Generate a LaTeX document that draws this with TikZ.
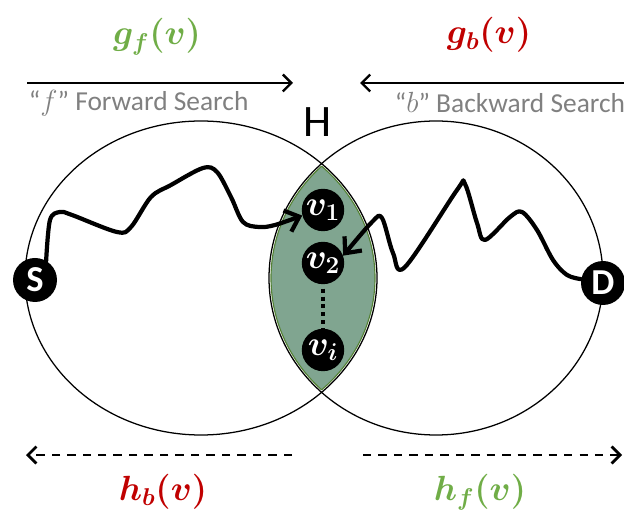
\documentclass[tikz,border=0pt]{standalone}
\usepackage{amsmath,amssymb}
\usepackage{bm}
\usepackage{fontspec}
\setmainfont{Carlito}
\usetikzlibrary{arrows.meta, positioning}
\definecolor{fwdgreen}{RGB}{112,173,71}
\definecolor{bwdred}{RGB}{192,0,0}
\definecolor{lensfill}{RGB}{128,165,144}
\definecolor{lensline}{RGB}{84,130,53}

\begin{document}
\begin{tikzpicture}[
  every node/.style={font=\fontsize{19.5}{23}\selectfont},
  term/.style={circle, fill=black, text=white, inner sep=0pt, minimum size=1.1cm,
    font=\fontsize{26}{28}\selectfont\bfseries},
  vnode/.style={circle, fill=black, text=white, inner sep=0pt, minimum size=1.06cm,
    font=\fontsize{25}{27}\selectfont},
  walk/.style={line width=3pt, line cap=round, line join=round,
    -{Straight Barb[length=9pt, width=16pt, line width=3pt]}},
  flow/.style={line width=1.7pt, -{Straight Barb[length=6pt, width=12pt]}},
  guess/.style={flow, line width=2pt, dash pattern=on 6pt off 5pt},
  fcost/.style={text=fwdgreen, font=\fontsize{26}{30}\selectfont},
  bcost/.style={text=bwdred, font=\fontsize{26}{30}\selectfont}
]
  \useasboundingbox (0,0) rectangle (15.6,12.85);

  % search regions
  \coordinate (cf) at (5.025,5.9);
  \coordinate (cb) at (10.9,5.9);
  \begin{scope}
    \clip (cf) ellipse [x radius=4.35, y radius=3.88];
    \fill[lensfill, draw=lensline, line width=0.8pt] (cb) ellipse [x radius=4.125, y radius=3.88];
  \end{scope}
  \begin{scope}
    \clip (cb) ellipse [x radius=4.125, y radius=3.88];
    \draw[lensline, line width=0.8pt] (cf) ellipse [x radius=4.35, y radius=3.88];
  \end{scope}
  \draw[line width=0.9pt] (cf) ellipse [x radius=4.4, y radius=3.925];
  \draw[line width=0.9pt] (cb) ellipse [x radius=4.175, y radius=3.925];
  \node[font=\fontsize{32}{36}\selectfont] (H) at (7.95,9.8) {H};

  % nodes
  \node[term] (S) at (0.875,5.85) {S};
  \node[term] (D) at (15.075,5.775) {D};
  \node[vnode] (v1) at (8.075,7.6) {$\bm{v_1}$};
  \node[vnode] (v2) at (8.075,6.275) {$\bm{v_2}$};
  \node[vnode] (vi) at (8.075,4.1) {$\bm{v_i}$};
  \draw[line width=2.8pt, dash pattern=on 2.8pt off 2.8pt, shorten <=3pt] (v2) -- (vi);

  % the two walks
  \draw[walk] plot[smooth, tension=0.55] coordinates {(S.60) (1.25,7.35) (1.5,7.55) (1.8,7.475)
    (2.925,7.05) (3.275,7.175) (3.775,7.925) (4.275,8.225) (5.075,8.65) (5.425,8.55)
    (5.775,7.925) (6.075,7.3) (6.475,7.175) (6.875,7.225) (v1.195)};
  \draw[walk] plot[smooth, tension=0.55] coordinates {(D.170) (14.175,5.975) (13.825,6.35)
    (13.425,7.1) (13.05,7.55) (12.75,7.425) (12.125,6.85) (11.925,7.275) (11.625,8.25)
    (11.425,8.1) (10.125,6.175) (9.825,6.525) (9.55,7.4) (9.3,7.3) (v2.20)};

  % directions
  \coordinate (f0) at (0.675,10.775);
  \coordinate (f1) at (7.325,10.775);
  \coordinate (b0) at (15.6,10.775);
  \coordinate (b1) at (9.0,10.775);
  \draw[flow] (f0) -- (f1);
  \draw[flow] (b0) -- (b1);
  \node[text=black!50, anchor=west] (fs) at (0.6,10.28) {“$f$” Forward Search};
  \node[text=black!50, anchor=west] (bs) at (9.75,10.3) {“$b$” Backward Search};
  \node[fcost] (gf) at (3.925,11.93) {$\bm{g_f(v)}$};
  \node[bcost] (gb) at (12.225,11.97) {$\bm{g_b(v)}$};

  % heuristic estimates
  \coordinate (hb0) at (7.3,1.475);
  \coordinate (hb1) at (0.65,1.475);
  \coordinate (hf0) at (9.075,1.475);
  \coordinate (hf1) at (15.55,1.475);
  \draw[guess] (hb0) -- (hb1);
  \draw[guess] (hf0) -- (hf1);
  \node[bcost] (hb) at (4.075,0.55) {$\bm{h_b(v)}$};
  \node[fcost] (hf) at (12.0,0.55) {$\bm{h_f(v)}$};
\end{tikzpicture}
\end{document}
